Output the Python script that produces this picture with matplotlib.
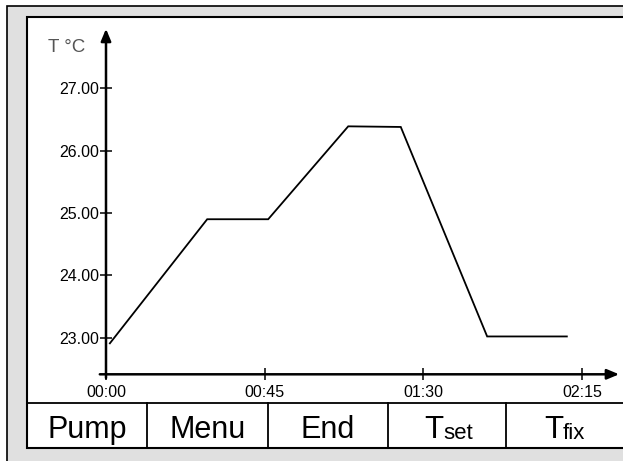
import matplotlib
matplotlib.use("Agg")
from matplotlib import pyplot as plt
from matplotlib.patches import Rectangle
from matplotlib.lines import Line2D

plt.rcParams['font.family'] = ['Liberation Sans', 'DejaVu Sans']

# temperature profile (time in minutes, temperature in degC)
time_min = [1.1, 28.7, 46.0, 68.7, 83.6, 108.1, 130.7]
temp_c = [22.91, 24.90, 24.90, 26.39, 26.38, 23.02, 23.02]

y_ticks = [23, 24, 25, 26, 27]
y_labels = ["23.00", "24.00", "25.00", "26.00", "27.00"]
x_ticks = [0, 45, 90, 135]
x_labels = ["00:00", "00:45", "01:30", "02:15"]
buttons = ["Pump", "Menu", "End", ("T", "set"), ("T", "fix")]

W, H = 623, 461
fig = plt.figure(figsize=(W / 100, H / 100), dpi=100)
fig.patch.set_facecolor("white")


def fx(x):
    return x / W


def fy(y):
    return 1 - y / H


# display frame
fig.patches.append(Rectangle((fx(6.5), fy(480)), fx(650) - fx(6.5), fy(6.5) - fy(480),
                             transform=fig.transFigure, fc="#e0e0e0", ec="black", lw=1.2))
fig.patches.append(Rectangle((fx(27), fy(448)), fx(650) - fx(27), fy(17) - fy(448),
                             transform=fig.transFigure, fc="white", ec="black", lw=1.5))
fig.lines.append(Line2D([fx(27), fx(650)], [fy(403), fy(403)], transform=fig.transFigure,
                        color="black", lw=1.3))
edges = [27, 147, 268, 388, 506, 628]
for xe in edges[1:-1]:
    fig.lines.append(Line2D([fx(xe), fx(xe)], [fy(403), fy(448)], transform=fig.transFigure,
                            color="black", lw=1.3))

for i, lab in enumerate(buttons):
    xc = (edges[i] + edges[i + 1]) / 2
    if isinstance(lab, tuple):
        fig.text(fx(xc - 4), fy(437.5), lab[0], fontsize=22.5, ha="right", va="baseline")
        fig.text(fx(xc - 4), fy(439), lab[1], fontsize=16, ha="left", va="baseline")
    else:
        fig.text(fx(xc), fy(437.5), lab, fontsize=22, ha="center", va="baseline")

# chart
ax = fig.add_axes([fx(106), fy(374.3), (582 - 106) / W, (374.3 - 88.3) / H])
ax.set_zorder(3)
ax.patch.set_alpha(0)
ax.plot(time_min, temp_c, color="black", lw=1.3, solid_joinstyle="miter")
ax.set_xlim(0, 135)
ax.set_ylim(22.413, 27)
for s in ax.spines.values():
    s.set_visible(False)

ax.set_yticks(y_ticks)
ax.set_yticklabels(y_labels)
ax.set_xticks(x_ticks)
ax.set_xticklabels(x_labels)
ax.tick_params(axis="both", direction="inout", length=8.5, width=1.1, labelsize=11.5, color="black")
ax.tick_params(axis="y", pad=0.5)
ax.tick_params(axis="x", pad=3.5)

arrow = dict(arrowstyle="-|>,head_length=0.6,head_width=0.25", lw=1.8, color="black",
             shrinkA=0, shrinkB=0, mutation_scale=12)
ax.annotate("", xy=(1.078, 0), xytext=(-0.013, 0), xycoords="axes fraction", arrowprops=arrow)
ax.annotate("", xy=(0, 1.208), xytext=(0, -0.013), xycoords="axes fraction", arrowprops=arrow)

fig.text(fx(48), fy(47), "T °C", fontsize=13.5, color="#555555", ha="left", va="center")

fig.savefig("out.png", dpi=100)
